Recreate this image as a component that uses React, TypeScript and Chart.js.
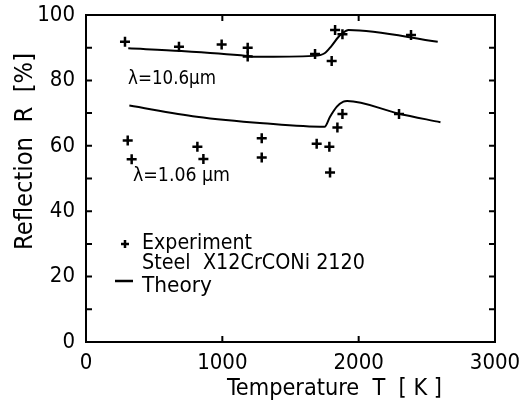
import React, { useEffect, useRef } from "react";
import { Chart, registerables } from "chart.js";

Chart.register(...registerables);

// Experimental points, lambda = 10.6 µm
const tempExp106 = [286, 682, 995, 1186, 1186, 1680, 1827, 1881, 1802, 2384];
const reflExp106 = [91.8, 90.3, 91.0, 90.0, 87.3, 88.1, 95.4, 94.1, 85.9, 93.9];

// Experimental points, lambda = 1.06 µm
const tempExp1 = [306, 335, 817, 861, 1289, 1289, 1692, 1785, 1790, 1844, 1881, 2296];
const reflExp1 = [61.6, 55.9, 59.7, 56.0, 62.3, 56.4, 60.6, 59.7, 51.8, 65.6, 69.7, 69.7];

// Theory curves
const tempTh106 = [310, 700, 1180, 1240, 1670, 1750, 1800, 1850, 1880, 1925, 2580];
const reflTh106 = [89.8, 89.0, 87.5, 87.2, 87.5, 88.3, 90.5, 93.2, 94.4, 95.4, 91.8];

const tempTh1 = [318, 812, 1300, 1750, 1790, 1840, 1888, 1915, 2290, 2600];
const reflTh1 = [72.3, 68.9, 66.9, 65.8, 68.9, 72.0, 73.5, 73.7, 69.9, 67.2];

const xTicks = [0, 1000, 2000, 3000];
const yTicks = [0, 20, 40, 60, 80, 100];
const yMinorTicks = [10, 20, 30, 40, 50, 60, 70, 80, 90];
const xMinorTicks = [1000, 2000];

const xTitle = "Temperature  T  [ K ]";
const yTitle = "Reflection  R  [%]";
const label106 = "λ=10.6μm";
const label1 = "λ=1.06 μm";
const legendExp = "Experiment";
const legendSteel = "Steel  X12CrCONi 2120";
const legendTheory = "Theory";

const FONT = "'DejaVu Sans Condensed', 'DejaVu Sans', sans-serif";

const zip = (xs: number[], ys: number[]) => xs.map((x, i) => ({ x, y: ys[i] }));

// draw text fitted to a given width (horizontal squeeze), left-aligned at x, vertically centred at y
function fitText(ctx: any, text: string, x: number, y: number, width: number, size: number, rot = 0) {
  ctx.save();
  ctx.font = `${size}px ${FONT}`;
  ctx.textBaseline = "middle";
  ctx.textAlign = "left";
  const w = ctx.measureText(text).width;
  ctx.translate(x, y);
  if (rot) ctx.rotate(rot);
  ctx.scale(width / w, 1);
  ctx.fillText(text, 0, 0);
  ctx.restore();
}

const overlay = {
  id: "overlay",
  afterDraw(chart: any) {
    const { ctx, chartArea: a, scales } = chart;
    const xs = scales.x, ys = scales.y;
    ctx.save();
    ctx.strokeStyle = "#000";
    ctx.fillStyle = "#000";
    ctx.lineWidth = 2;
    ctx.strokeRect(a.left, a.top, a.right - a.left, a.bottom - a.top);
    ctx.beginPath();
    for (const v of yMinorTicks) {
      const p = ys.getPixelForValue(v);
      ctx.moveTo(a.left, p); ctx.lineTo(a.left + 6, p);
      ctx.moveTo(a.right, p); ctx.lineTo(a.right - 6, p);
    }
    for (const v of xMinorTicks) {
      const p = xs.getPixelForValue(v);
      ctx.moveTo(p, a.top); ctx.lineTo(p, a.top + 6);
      ctx.moveTo(p, a.bottom); ctx.lineTo(p, a.bottom - 6);
    }
    ctx.stroke();

    // axis titles
    fitText(ctx, xTitle, 227, 389, 215, 23);
    fitText(ctx, yTitle, 26, 250, 197, 24, -Math.PI / 2);

    // curve labels
    fitText(ctx, label106, xs.getPixelForValue(308), ys.getPixelForValue(80.4), 88, 20);
    fitText(ctx, label1, xs.getPixelForValue(345), ys.getPixelForValue(50.8), 97, 20);

    // legend
    const lx = 125, ly = 244;
    ctx.lineWidth = 2.5;
    ctx.beginPath();
    ctx.moveTo(lx - 4, ly); ctx.lineTo(lx + 4, ly);
    ctx.moveTo(lx, ly - 4); ctx.lineTo(lx, ly + 4);
    ctx.stroke();
    fitText(ctx, legendExp, 142, 244, 110, 21);
    fitText(ctx, legendSteel, 142, 264, 223, 21);
    ctx.beginPath();
    ctx.moveTo(115, 281); ctx.lineTo(133, 281);
    ctx.stroke();
    fitText(ctx, legendTheory, 142, 287, 70, 21);
    ctx.restore();
  },
};

export default function App() {
  const ref = useRef<HTMLCanvasElement>(null);
  useEffect(() => {
    document.body.style.margin = "0";
    const chart = new Chart(ref.current!, {
      type: "scatter",
      data: {
        datasets: [
          {
            type: "line",
            data: zip(tempTh106, reflTh106),
            borderColor: "#000",
            borderWidth: 2,
            pointRadius: 0,
            cubicInterpolationMode: "monotone",
            fill: false,
          },
          {
            type: "line",
            data: zip(tempTh1, reflTh1),
            borderColor: "#000",
            borderWidth: 2,
            pointRadius: 0,
            cubicInterpolationMode: "monotone",
            fill: false,
          },
          {
            data: zip(tempExp106, reflExp106),
            pointStyle: "cross",
            pointRadius: 5,
            borderColor: "#000",
            borderWidth: 2.5,
          },
          {
            data: zip(tempExp1, reflExp1),
            pointStyle: "cross",
            pointRadius: 5,
            borderColor: "#000",
            borderWidth: 2.5,
          },
        ],
      } as any,
      options: {
        animation: false,
        responsive: false,
        layout: { padding: { left: 0, top: 0, right: 35, bottom: 0 } },
        plugins: { legend: { display: false }, tooltip: { enabled: false } },
        scales: {
          x: {
            type: "linear",
            min: 0,
            max: 3000,
            afterBuildTicks: (s: any) => { s.ticks = xTicks.map((v) => ({ value: v })); },
            afterFit: (s: any) => { s.height = 72; s.paddingLeft = 0; s.paddingRight = 35; },
            grid: { display: false, drawTicks: false },
            border: { display: false },
            ticks: {
              color: "#000",
              font: { family: FONT, size: 22 },
              padding: 8,
              maxRotation: 0,
              callback: (v: any) => String(v),
            },
          },
          y: {
            min: 0,
            max: 100,
            afterBuildTicks: (s: any) => { s.ticks = yTicks.map((v) => ({ value: v })); },
            afterFit: (s: any) => { s.width = 86; s.paddingTop = 15; s.paddingBottom = 0; },
            grid: { display: false, drawTicks: false },
            border: { display: false },
            ticks: {
              color: "#000",
              font: { family: FONT, size: 22 },
              padding: 11,
              callback: (v: any) => String(v),
            },
          },
        },
      },
      plugins: [overlay],
    } as any);
    return () => chart.destroy();
  }, []);
  return (
    <div style={{ position: "absolute", left: 0, top: 0, width: 530, height: 414, background: "#fff" }}>
      <canvas ref={ref} width={530} height={414} style={{ display: "block", width: 530, height: 414 }} />
    </div>
  );
}
